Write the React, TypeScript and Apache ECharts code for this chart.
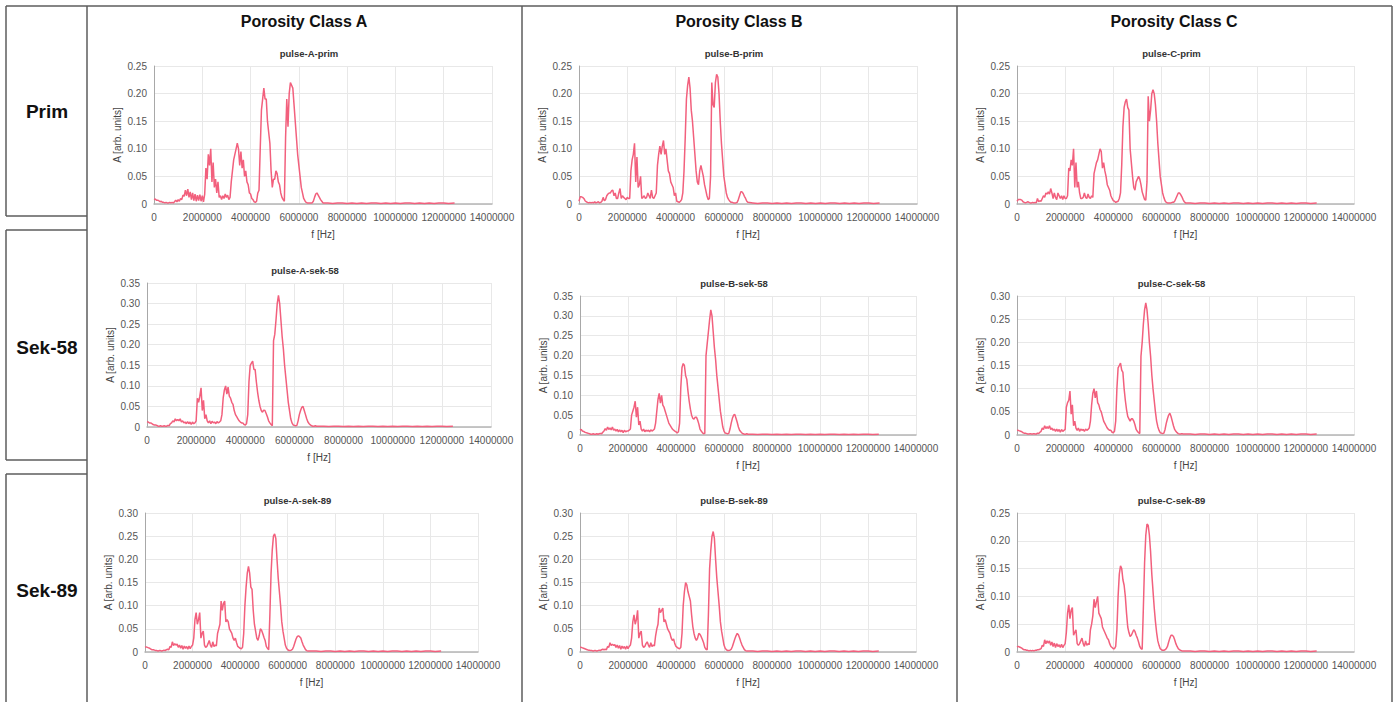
import React, { useEffect, useRef } from "react";
import * as echarts from "echarts";

const COL_HEADERS = ["Porosity Class A", "Porosity Class B", "Porosity Class C"];
const ROW_HEADERS = ["Prim", "Sek-58", "Sek-89"];
const PANEL_TITLES = [
  ["pulse-A-prim", "pulse-B-prim", "pulse-C-prim"],
  ["pulse-A-sek-58", "pulse-B-sek-58", "pulse-C-sek-58"],
  ["pulse-A-sek-89", "pulse-B-sek-89", "pulse-C-sek-89"],
];
const Y_MAX = [
  [0.25, 0.25, 0.25],
  [0.35, 0.35, 0.3],
  [0.3, 0.3, 0.25],
];
const X_MIN = 0;
const X_MAX = 14000000;
const X_INTERVAL = 2000000;
const Y_INTERVAL = 0.05;

// spectra sampled every 50 kHz from 0 to 7.0 MHz
const STEP_HZ = 50000;

const A_PRIM = [
  0.008, 0.009, 0.007, 0.007, 0.006, 0.004, 0.005, 0.003, 0.003, 0.002, 0.003, 0.002, 0.002, 0.003, 0.002, 0.003, 0.002, 0.004, 0.007, 0.004,
  0.008, 0.005, 0.010, 0.008, 0.016, 0.014, 0.025, 0.015, 0.027, 0.012, 0.022, 0.008, 0.020, 0.006, 0.018, 0.005, 0.016, 0.006, 0.017, 0.005,
  0.015, 0.004, 0.018, 0.065, 0.045, 0.090, 0.070, 0.100, 0.040, 0.075, 0.030, 0.045, 0.020, 0.040, 0.012, 0.015, 0.008, 0.015, 0.010, 0.018,
  0.012, 0.016, 0.008, 0.012, 0.040, 0.060, 0.080, 0.090, 0.100, 0.110, 0.100, 0.070, 0.095, 0.065, 0.080, 0.050, 0.060, 0.040, 0.035, 0.020,
  0.018, 0.010, 0.008, 0.004, 0.003, 0.005, 0.020, 0.025, 0.100, 0.170, 0.190, 0.210, 0.190, 0.190, 0.150, 0.130, 0.110, 0.060, 0.030, 0.045,
  0.045, 0.060, 0.055, 0.040, 0.035, 0.020, 0.012, 0.008, 0.005, 0.120, 0.190, 0.140, 0.200, 0.220, 0.215, 0.210, 0.180, 0.150, 0.120, 0.090,
  0.070, 0.050, 0.030, 0.020, 0.010, 0.006, 0.003, 0.002, 0.002, 0.002, 0.002, 0.002, 0.005, 0.012, 0.018, 0.020, 0.016, 0.012, 0.008, 0.005,
  0.002,
];
const B_PRIM = [
  0.005, 0.013, 0.013, 0.012, 0.010, 0.006, 0.004, 0.003, 0.002, 0.003, 0.002, 0.003, 0.002, 0.004, 0.002, 0.003, 0.004, 0.002, 0.003, 0.005,
  0.012, 0.006, 0.008, 0.015, 0.018, 0.020, 0.020, 0.024, 0.025, 0.015, 0.020, 0.010, 0.010, 0.020, 0.028, 0.010, 0.015, 0.012, 0.010, 0.008,
  0.012, 0.010, 0.010, 0.060, 0.080, 0.090, 0.110, 0.040, 0.085, 0.030, 0.035, 0.050, 0.010, 0.012, 0.015, 0.010, 0.012, 0.020, 0.015, 0.010,
  0.025, 0.012, 0.010, 0.015, 0.020, 0.070, 0.090, 0.105, 0.090, 0.105, 0.115, 0.090, 0.100, 0.080, 0.060, 0.055, 0.040, 0.035, 0.030, 0.015,
  0.020, 0.005, 0.004, 0.003, 0.005, 0.008, 0.020, 0.060, 0.120, 0.190, 0.215, 0.230, 0.210, 0.170, 0.150, 0.120, 0.090, 0.060, 0.040, 0.035,
  0.060, 0.070, 0.060, 0.050, 0.035, 0.025, 0.015, 0.008, 0.010, 0.050, 0.220, 0.180, 0.175, 0.220, 0.235, 0.230, 0.200, 0.150, 0.110, 0.080,
  0.050, 0.035, 0.020, 0.012, 0.008, 0.005, 0.003, 0.003, 0.002, 0.002, 0.002, 0.003, 0.008, 0.015, 0.022, 0.022, 0.019, 0.014, 0.010, 0.005,
  0.003,
];
const C_PRIM = [
  0.005, 0.008, 0.008, 0.008, 0.007, 0.004, 0.003, 0.002, 0.003, 0.004, 0.003, 0.002, 0.002, 0.003, 0.002, 0.003, 0.002, 0.010, 0.004, 0.006,
  0.005, 0.010, 0.015, 0.012, 0.020, 0.018, 0.022, 0.018, 0.028, 0.020, 0.010, 0.020, 0.012, 0.008, 0.020, 0.015, 0.010, 0.015, 0.008, 0.015,
  0.010, 0.010, 0.015, 0.065, 0.060, 0.080, 0.070, 0.100, 0.030, 0.075, 0.030, 0.040, 0.020, 0.010, 0.010, 0.012, 0.020, 0.012, 0.010, 0.018,
  0.012, 0.010, 0.015, 0.012, 0.055, 0.065, 0.075, 0.080, 0.090, 0.100, 0.095, 0.065, 0.075, 0.060, 0.050, 0.035, 0.030, 0.025, 0.015, 0.010,
  0.006, 0.005, 0.003, 0.004, 0.005, 0.010, 0.020, 0.070, 0.140, 0.175, 0.185, 0.190, 0.175, 0.170, 0.100, 0.075, 0.050, 0.030, 0.025, 0.040,
  0.045, 0.050, 0.045, 0.035, 0.022, 0.015, 0.008, 0.007, 0.040, 0.195, 0.150, 0.170, 0.200, 0.207, 0.200, 0.180, 0.150, 0.110, 0.080, 0.050,
  0.035, 0.020, 0.012, 0.006, 0.003, 0.002, 0.002, 0.002, 0.002, 0.003, 0.003, 0.005, 0.010, 0.015, 0.020, 0.020, 0.017, 0.013, 0.008, 0.004,
  0.002,
];
const A_SEK58 = [
  0.013, 0.012, 0.010, 0.010, 0.008, 0.006, 0.005, 0.005, 0.004, 0.002, 0.002, 0.003, 0.002, 0.002, 0.003, 0.002, 0.002, 0.004, 0.003, 0.008,
  0.010, 0.015, 0.012, 0.020, 0.015, 0.018, 0.015, 0.020, 0.012, 0.015, 0.010, 0.012, 0.008, 0.013, 0.008, 0.012, 0.006, 0.012, 0.008, 0.010,
  0.015, 0.070, 0.060, 0.075, 0.095, 0.040, 0.065, 0.020, 0.030, 0.015, 0.010, 0.015, 0.008, 0.014, 0.010, 0.012, 0.008, 0.013, 0.010, 0.012,
  0.015, 0.030, 0.070, 0.090, 0.100, 0.080, 0.097, 0.075, 0.070, 0.060, 0.055, 0.040, 0.030, 0.025, 0.020, 0.015, 0.012, 0.010, 0.010, 0.006,
  0.005, 0.008, 0.030, 0.110, 0.150, 0.155, 0.160, 0.140, 0.140, 0.110, 0.085, 0.065, 0.050, 0.040, 0.036, 0.041, 0.040, 0.033, 0.025, 0.015,
  0.010, 0.006, 0.003, 0.210, 0.225, 0.260, 0.300, 0.320, 0.300, 0.260, 0.220, 0.190, 0.150, 0.120, 0.090, 0.060, 0.040, 0.020, 0.010, 0.005,
  0.004, 0.003, 0.004, 0.015, 0.030, 0.040, 0.048, 0.050, 0.040, 0.030, 0.020, 0.012, 0.008, 0.005, 0.003, 0.002, 0.002, 0.003, 0.002, 0.002,
  0.002,
];
const B_SEK58 = [
  0.012, 0.014, 0.010, 0.009, 0.007, 0.006, 0.005, 0.004, 0.003, 0.002, 0.002, 0.003, 0.002, 0.002, 0.003, 0.002, 0.003, 0.004, 0.003, 0.007,
  0.010, 0.016, 0.012, 0.020, 0.014, 0.018, 0.013, 0.020, 0.012, 0.015, 0.010, 0.014, 0.008, 0.013, 0.008, 0.012, 0.006, 0.012, 0.008, 0.010,
  0.010, 0.012, 0.015, 0.050, 0.060, 0.070, 0.085, 0.045, 0.070, 0.025, 0.035, 0.015, 0.010, 0.015, 0.008, 0.012, 0.010, 0.012, 0.008, 0.013,
  0.010, 0.012, 0.015, 0.030, 0.060, 0.090, 0.105, 0.080, 0.100, 0.075, 0.070, 0.060, 0.050, 0.040, 0.030, 0.025, 0.020, 0.015, 0.012, 0.010,
  0.008, 0.005, 0.008, 0.030, 0.120, 0.170, 0.180, 0.175, 0.150, 0.140, 0.110, 0.085, 0.065, 0.050, 0.042, 0.040, 0.045, 0.045, 0.038, 0.028,
  0.015, 0.010, 0.006, 0.003, 0.004, 0.200, 0.230, 0.260, 0.290, 0.315, 0.300, 0.260, 0.220, 0.190, 0.150, 0.120, 0.090, 0.060, 0.040, 0.020,
  0.010, 0.005, 0.004, 0.003, 0.004, 0.015, 0.030, 0.042, 0.050, 0.052, 0.042, 0.032, 0.020, 0.012, 0.008, 0.005, 0.003, 0.002, 0.002, 0.003,
  0.002,
];
const C_SEK58 = [
  0.010, 0.010, 0.009, 0.008, 0.007, 0.005, 0.004, 0.004, 0.003, 0.002, 0.002, 0.003, 0.002, 0.002, 0.003, 0.002, 0.002, 0.004, 0.003, 0.006,
  0.008, 0.015, 0.012, 0.020, 0.014, 0.018, 0.014, 0.020, 0.012, 0.015, 0.010, 0.013, 0.008, 0.013, 0.008, 0.012, 0.006, 0.012, 0.008, 0.010,
  0.012, 0.060, 0.070, 0.075, 0.095, 0.045, 0.065, 0.020, 0.030, 0.015, 0.010, 0.015, 0.008, 0.013, 0.010, 0.012, 0.008, 0.013, 0.010, 0.012,
  0.015, 0.030, 0.065, 0.090, 0.100, 0.080, 0.095, 0.070, 0.065, 0.055, 0.050, 0.040, 0.030, 0.025, 0.020, 0.015, 0.012, 0.010, 0.010, 0.006,
  0.005, 0.008, 0.030, 0.100, 0.145, 0.150, 0.155, 0.140, 0.135, 0.100, 0.075, 0.055, 0.040, 0.035, 0.030, 0.035, 0.035, 0.030, 0.022, 0.012,
  0.008, 0.005, 0.003, 0.170, 0.200, 0.240, 0.270, 0.285, 0.270, 0.240, 0.200, 0.170, 0.130, 0.100, 0.075, 0.050, 0.030, 0.018, 0.010, 0.005,
  0.004, 0.003, 0.004, 0.012, 0.025, 0.035, 0.043, 0.047, 0.040, 0.030, 0.020, 0.012, 0.008, 0.005, 0.003, 0.002, 0.002, 0.003, 0.002, 0.002,
  0.002,
];
const A_SEK89 = [
  0.010, 0.011, 0.010, 0.009, 0.008, 0.006, 0.005, 0.005, 0.004, 0.003, 0.003, 0.002, 0.003, 0.003, 0.002, 0.003, 0.004, 0.003, 0.005, 0.006,
  0.005, 0.012, 0.010, 0.022, 0.014, 0.018, 0.015, 0.017, 0.010, 0.015, 0.008, 0.014, 0.006, 0.013, 0.008, 0.012, 0.006, 0.013, 0.007, 0.012,
  0.015, 0.030, 0.070, 0.085, 0.060, 0.070, 0.085, 0.030, 0.040, 0.045, 0.015, 0.010, 0.012, 0.018, 0.025, 0.015, 0.010, 0.022, 0.012, 0.015,
  0.013, 0.040, 0.050, 0.060, 0.110, 0.090, 0.105, 0.110, 0.065, 0.070, 0.065, 0.050, 0.045, 0.040, 0.030, 0.025, 0.030, 0.020, 0.012, 0.010,
  0.008, 0.007, 0.010, 0.040, 0.100, 0.140, 0.170, 0.185, 0.170, 0.140, 0.135, 0.090, 0.060, 0.045, 0.030, 0.025, 0.035, 0.050, 0.047, 0.040,
  0.032, 0.025, 0.012, 0.008, 0.005, 0.080, 0.170, 0.220, 0.250, 0.255, 0.245, 0.200, 0.160, 0.130, 0.100, 0.065, 0.045, 0.030, 0.015, 0.008,
  0.005, 0.003, 0.003, 0.004, 0.006, 0.012, 0.020, 0.028, 0.033, 0.035, 0.033, 0.030, 0.022, 0.015, 0.010, 0.005, 0.003, 0.002, 0.002, 0.002,
  0.002,
];
const B_SEK89 = [
  0.010, 0.010, 0.009, 0.008, 0.007, 0.006, 0.005, 0.004, 0.004, 0.003, 0.003, 0.002, 0.003, 0.003, 0.002, 0.003, 0.004, 0.003, 0.005, 0.006,
  0.005, 0.006, 0.005, 0.012, 0.010, 0.020, 0.014, 0.017, 0.014, 0.016, 0.010, 0.015, 0.008, 0.014, 0.006, 0.013, 0.008, 0.012, 0.006, 0.013,
  0.007, 0.012, 0.015, 0.030, 0.065, 0.080, 0.060, 0.070, 0.090, 0.030, 0.040, 0.045, 0.015, 0.010, 0.012, 0.018, 0.022, 0.015, 0.010, 0.020,
  0.012, 0.015, 0.013, 0.035, 0.050, 0.060, 0.095, 0.085, 0.090, 0.095, 0.065, 0.070, 0.060, 0.050, 0.045, 0.040, 0.030, 0.025, 0.028, 0.018,
  0.012, 0.010, 0.008, 0.007, 0.010, 0.040, 0.100, 0.130, 0.150, 0.145, 0.130, 0.120, 0.110, 0.080, 0.055, 0.040, 0.030, 0.025, 0.030, 0.040,
  0.038, 0.033, 0.027, 0.020, 0.010, 0.006, 0.005, 0.080, 0.180, 0.220, 0.250, 0.260, 0.245, 0.200, 0.160, 0.130, 0.100, 0.065, 0.045, 0.030,
  0.015, 0.008, 0.005, 0.003, 0.003, 0.004, 0.006, 0.012, 0.020, 0.028, 0.035, 0.040, 0.037, 0.030, 0.022, 0.015, 0.010, 0.005, 0.003, 0.002,
  0.002,
];
const C_SEK89 = [
  0.009, 0.010, 0.009, 0.008, 0.007, 0.005, 0.004, 0.004, 0.003, 0.003, 0.002, 0.003, 0.002, 0.003, 0.002, 0.003, 0.003, 0.004, 0.004, 0.005,
  0.006, 0.012, 0.010, 0.022, 0.015, 0.020, 0.016, 0.020, 0.012, 0.018, 0.010, 0.016, 0.008, 0.015, 0.010, 0.013, 0.008, 0.014, 0.008, 0.012,
  0.015, 0.035, 0.070, 0.085, 0.060, 0.075, 0.080, 0.030, 0.035, 0.040, 0.015, 0.012, 0.015, 0.020, 0.025, 0.015, 0.010, 0.020, 0.012, 0.015,
  0.013, 0.040, 0.050, 0.065, 0.095, 0.080, 0.090, 0.100, 0.070, 0.065, 0.060, 0.045, 0.040, 0.035, 0.030, 0.025, 0.022, 0.015, 0.010, 0.008,
  0.006, 0.006, 0.010, 0.040, 0.100, 0.140, 0.155, 0.150, 0.130, 0.120, 0.100, 0.070, 0.045, 0.035, 0.028, 0.030, 0.035, 0.040, 0.037, 0.030,
  0.025, 0.018, 0.010, 0.006, 0.005, 0.080, 0.160, 0.210, 0.230, 0.228, 0.210, 0.180, 0.140, 0.110, 0.080, 0.055, 0.035, 0.020, 0.012, 0.006,
  0.004, 0.003, 0.003, 0.004, 0.006, 0.010, 0.018, 0.025, 0.030, 0.030, 0.028, 0.022, 0.015, 0.010, 0.006, 0.004, 0.003, 0.002, 0.002, 0.002,
  0.002,
];

// sparse tail of each spectrum (7.2 MHz .. 12.45 MHz), near-zero noise floor
const TAIL_FREQ_HZ = [
  7200000, 7400000, 7600000, 7800000, 8000000, 8200000, 8400000, 8600000, 8800000, 9000000, 9200000, 9400000, 9600000, 9800000,
  10000000, 10200000, 10400000, 10600000, 10800000, 11000000, 11200000, 11400000, 11600000, 11800000, 12000000, 12200000, 12450000,
];
const TAIL_AMP = [
  0.002, 0.001, 0.002, 0.002, 0.001, 0.002, 0.001, 0.002, 0.001, 0.002, 0.002, 0.001, 0.002, 0.001,
  0.002, 0.001, 0.002, 0.002, 0.001, 0.002, 0.001, 0.002, 0.001, 0.002, 0.002, 0.001, 0.002,
];

const SPECTRA = [
  [A_PRIM, B_PRIM, C_PRIM],
  [A_SEK58, B_SEK58, C_SEK58],
  [A_SEK89, B_SEK89, C_SEK89],
];

// layout (pixels)
const GRIDS = [
  [
    { l: 154, t: 66, w: 338, h: 138 },
    { l: 579, t: 66, w: 338, h: 138 },
    { l: 1017, t: 66, w: 337, h: 138 },
  ],
  [
    { l: 147, t: 283, w: 344, h: 144 },
    { l: 580, t: 296, w: 336, h: 139 },
    { l: 1017, t: 296, w: 337, h: 139 },
  ],
  [
    { l: 145, t: 513, w: 333, h: 139 },
    { l: 580, t: 513, w: 336, h: 139 },
    { l: 1017, t: 513, w: 337, h: 139 },
  ],
];
const COL_HEADER_X = [304, 739, 1174];
const ROW_HEADER_Y = [111, 347, 590];

const FONT = "'Liberation Sans', Arial, Helvetica, sans-serif";
const LINE_COLOR = "#f2607d";
const FRAME = "#5c5c5c";

function buildPoints(amp: number[]) {
  const pts: number[][] = amp.map((a, i) => [i * STEP_HZ, a]);
  TAIL_FREQ_HZ.forEach((f, i) => pts.push([f, TAIL_AMP[i]]));
  return pts;
}

function frameLine(x1: number, y1: number, x2: number, y2: number) {
  return {
    type: "line",
    silent: true,
    shape: { x1, y1, x2, y2 },
    style: { stroke: FRAME, lineWidth: 1.5 },
  };
}

export default function App() {
  const ref = useRef<HTMLDivElement>(null);
  useEffect(() => {
    if (!ref.current) return;
    const chart = echarts.init(ref.current, undefined, { renderer: "svg" });
    const grids: any[] = [];
    const xAxes: any[] = [];
    const yAxes: any[] = [];
    const series: any[] = [];
    const graphics: any[] = [];
    let k = 0;
    for (let r = 0; r < 3; r++) {
      for (let c = 0; c < 3; c++) {
        const g = GRIDS[r][c];
        grids.push({ left: g.l, top: g.t, width: g.w, height: g.h, containLabel: false });
        xAxes.push({
          type: "value",
          gridIndex: k,
          min: X_MIN,
          max: X_MAX,
          interval: X_INTERVAL,
          name: "f [Hz]",
          nameLocation: "middle",
          nameGap: 25,
          nameTextStyle: { fontSize: 10, color: "#444", fontFamily: FONT },
          axisLine: { show: true, onZero: false, lineStyle: { color: "#b5b5b5", width: 1.5 } },
          axisTick: { show: false },
          axisLabel: {
            fontSize: 10,
            color: "#555",
            margin: 8,
            fontFamily: FONT,
            hideOverlap: false,
            showMaxLabel: true,
            showMinLabel: true,
            formatter: (v: number) => String(Math.round(v)),
          },
          splitLine: { show: true, lineStyle: { color: "#e8e8e8", width: 1 } },
        });
        yAxes.push({
          type: "value",
          gridIndex: k,
          min: 0,
          max: Y_MAX[r][c],
          interval: Y_INTERVAL,
          name: "A [arb. units]",
          nameLocation: "middle",
          nameGap: 32,
          nameRotate: 90,
          nameTextStyle: { fontSize: 10, color: "#444", fontFamily: FONT },
          axisLine: { show: true, lineStyle: { color: "#a8a8a8", width: 1 } },
          axisTick: { show: false },
          axisLabel: {
            fontSize: 10,
            color: "#555",
            margin: 7,
            fontFamily: FONT,
            showMaxLabel: true,
            formatter: (v: number) => (Math.abs(v) < 1e-9 ? "0" : v.toFixed(2)),
          },
          splitLine: { show: true, lineStyle: { color: "#e8e8e8", width: 1 } },
        });
        series.push({
          type: "line",
          xAxisIndex: k,
          yAxisIndex: k,
          data: buildPoints(SPECTRA[r][c]),
          showSymbol: false,
          symbol: "none",
          lineStyle: { color: LINE_COLOR, width: 1.5 },
          itemStyle: { color: LINE_COLOR },
          silent: true,
        });
        graphics.push({
          type: "text",
          x: g.l + g.w / 2 - 14,
          y: g.t - 13,
          silent: true,
          style: {
            text: PANEL_TITLES[r][c],
            fill: "#333",
            font: `bold 9.5px ${FONT}`,
            textAlign: "center",
            textVerticalAlign: "middle",
          },
        });
        k++;
      }
    }
    COL_HEADERS.forEach((t, i) => {
      graphics.push({
        type: "text",
        x: COL_HEADER_X[i],
        y: 21,
        silent: true,
        style: { text: t, fill: "#111", font: `bold 16px ${FONT}`, textAlign: "center", textVerticalAlign: "middle" },
      });
    });
    ROW_HEADERS.forEach((t, i) => {
      graphics.push({
        type: "text",
        x: 47,
        y: ROW_HEADER_Y[i],
        silent: true,
        style: { text: t, fill: "#111", font: `bold 19px ${FONT}`, textAlign: "center", textVerticalAlign: "middle" },
      });
    });
    // table frame
    graphics.push(frameLine(6, 6, 1392, 6));
    graphics.push(frameLine(6, 6, 6, 216));
    graphics.push(frameLine(6, 216, 87, 216));
    graphics.push(frameLine(6, 230, 87, 230));
    graphics.push(frameLine(6, 230, 6, 460));
    graphics.push(frameLine(6, 460, 87, 460));
    graphics.push(frameLine(6, 474, 87, 474));
    graphics.push(frameLine(6, 474, 6, 702));
    [87, 522, 957, 1392].forEach((x) => graphics.push(frameLine(x, 6, x, 702)));

    chart.setOption({
      animation: false,
      backgroundColor: "#ffffff",
      grid: grids,
      xAxis: xAxes,
      yAxis: yAxes,
      series,
      graphic: { elements: graphics },
    });
    return () => chart.dispose();
  }, []);
  return (
    <div
      ref={ref}
      style={{ position: "absolute", left: 0, top: 0, width: 1397, height: 702, background: "#fff" }}
    />
  );
}
